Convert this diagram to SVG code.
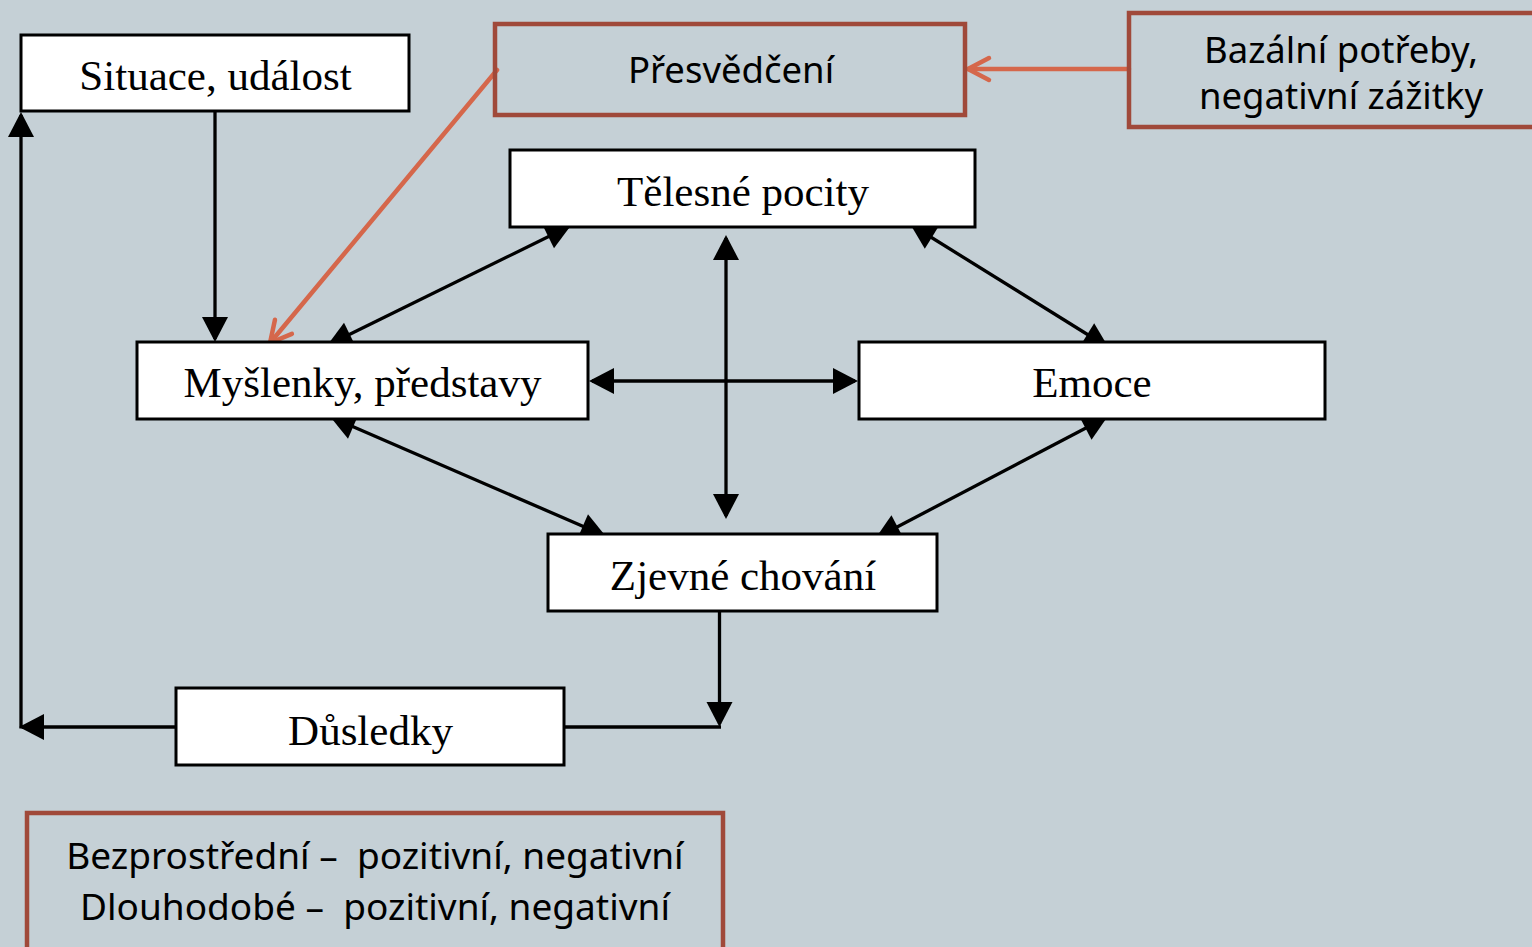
<svg xmlns="http://www.w3.org/2000/svg" width="1532" height="947" viewBox="0 0 1532 947">
<style>
.bg{fill:#c5d0d6}
.box{fill:#ffffff;stroke:#000;stroke-width:3}
.rbox{fill:none;stroke:#a0493a;stroke-width:4.5}
.st{font-family:"Liberation Serif","Times New Roman",serif;font-size:43px;fill:#000;text-anchor:middle}
.ss{font-family:"Noto Sans","Open Sans","Liberation Sans",sans-serif;font-size:36.5px;fill:#000;text-anchor:middle;white-space:pre}
.sb{font-size:37px}
.ln{stroke:#000;stroke-width:3.3;fill:none}
.or{stroke:#d5674b;stroke-width:4.5;fill:none;stroke-linecap:round}
</style>
<defs>
<marker id="ah" markerUnits="userSpaceOnUse" markerWidth="25" markerHeight="26" refX="22" refY="13" orient="auto-start-reverse" overflow="visible">
<path d="M0,0 L25,13 L0,26 z" fill="#000"/>
</marker>
<marker id="ch" markerUnits="userSpaceOnUse" markerWidth="22" markerHeight="22" refX="21" refY="11" orient="auto" overflow="visible">
<path d="M0,0 L21,11 L0,22" fill="none" stroke="#d5674b" stroke-width="4.5" stroke-linecap="round" stroke-linejoin="round"/>
</marker>
</defs>
<rect class="bg" x="0" y="0" width="1532" height="947"/>
<g id="connectors">
<line class="ln" x1="215" y1="111" x2="215" y2="339" marker-end="url(#ah)"/>
<line class="ln" x1="330" y1="344" x2="568" y2="227" marker-start="url(#ah)" marker-end="url(#ah)"/>
<line class="ln" x1="913" y1="226" x2="1106" y2="346" marker-start="url(#ah)" marker-end="url(#ah)"/>
<line class="ln" x1="726" y1="238" x2="726" y2="516" marker-start="url(#ah)" marker-end="url(#ah)"/>
<line class="ln" x1="592" y1="381" x2="855" y2="381" marker-start="url(#ah)" marker-end="url(#ah)"/>
<line class="ln" x1="333" y1="418" x2="603" y2="535" marker-start="url(#ah)" marker-end="url(#ah)"/>
<line class="ln" x1="1105" y1="418" x2="878" y2="537" marker-start="url(#ah)" marker-end="url(#ah)"/>
<line class="ln" x1="719.5" y1="611" x2="719.5" y2="724" marker-end="url(#ah)"/>
<line class="ln" x1="564" y1="727" x2="721" y2="727"/>
<line class="ln" x1="176" y1="727" x2="22" y2="727" marker-end="url(#ah)"/>
<line class="ln" x1="21" y1="728.6" x2="21" y2="115" marker-end="url(#ah)"/>
<line class="or" x1="1129" y1="69" x2="968" y2="69" marker-end="url(#ch)"/>
<line class="or" x1="497" y1="70" x2="270" y2="343" marker-end="url(#ch)"/>
</g>
<g id="situace">
<rect class="box" x="21" y="35" width="388" height="76"/>
<text class="st" x="215.5" y="90">Situace, událost</text>
</g>
<g id="presvedceni">
<rect class="rbox" x="495" y="24" width="470" height="91"/>
<text class="ss" x="731" y="83">Přesvědčení</text>
</g>
<g id="bazalni">
<rect class="rbox" x="1129" y="13" width="420" height="114"/>
<text class="ss" x="1341" y="63">Bazální potřeby,</text>
<text class="ss" x="1341" y="109">negativní zážitky</text>
</g>
<g id="telesne">
<rect class="box" x="510" y="150" width="465" height="77"/>
<text class="st" x="743" y="206">Tělesné pocity</text>
</g>
<g id="myslenky">
<rect class="box" x="137" y="342" width="451" height="77"/>
<text class="st" x="362.5" y="397">Myšlenky, představy</text>
</g>
<g id="emoce">
<rect class="box" x="859" y="342" width="466" height="77"/>
<text class="st" x="1092" y="397">Emoce</text>
</g>
<g id="zjevne">
<rect class="box" x="548" y="534" width="389" height="77"/>
<text class="st" x="743" y="590">Zjevné chování</text>
</g>
<g id="dusledky">
<rect class="box" x="176" y="688" width="388" height="77"/>
<text class="st" x="370.5" y="745">Důsledky</text>
</g>
<g id="vysledky">
<rect class="rbox" x="27" y="813" width="696" height="150"/>
<text class="ss sb" x="375" y="869">Bezprostřední –  pozitivní, negativní</text>
<text class="ss sb" x="375" y="920">Dlouhodobé –  pozitivní, negativní</text>
</g>
</svg>
